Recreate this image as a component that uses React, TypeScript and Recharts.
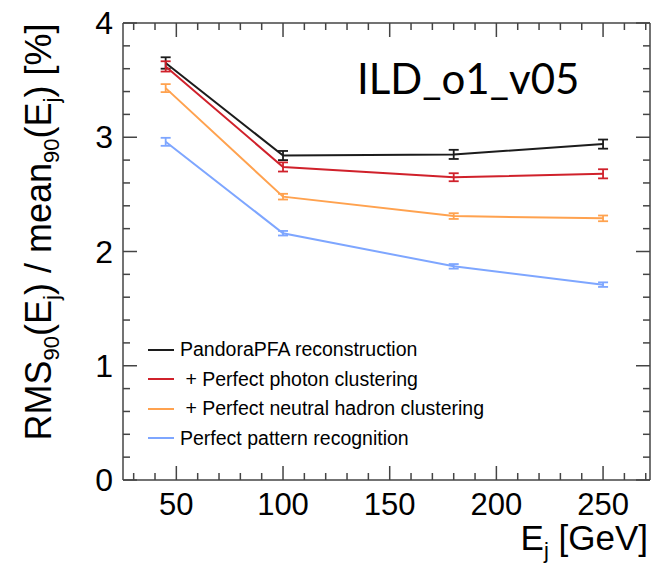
import { LineChart, Line, XAxis, YAxis, ErrorBar, Legend, Customized } from 'recharts';

// jet energies [GeV]
const energies = [45, 100, 180, 250];

// RMS90 / mean90 [%] and their errors, per reconstruction setup
const pandora = [3.65, 2.84, 2.85, 2.94];
const pandoraErr = [0.05, 0.04, 0.04, 0.04];
const photon = [3.62, 2.74, 2.65, 2.68];
const photonErr = [0.045, 0.04, 0.035, 0.04];
const neutral = [3.43, 2.48, 2.31, 2.29];
const neutralErr = [0.035, 0.025, 0.025, 0.025];
const pattern = [2.96, 2.16, 1.87, 1.71];
const patternErr = [0.035, 0.02, 0.02, 0.02];

const xMajorTicks = [50, 100, 150, 200, 250];
const yMajorTicks = [0, 1, 2, 3, 4];

const seriesNames = [
  'PandoraPFA reconstruction',
  ' + Perfect photon clustering',
  ' + Perfect neutral hadron clustering',
  'Perfect pattern recognition',
];

const SERIES = [
  { key: 'pandora', name: seriesNames[0], color: '#1c1c1c', values: pandora, errs: pandoraErr },
  { key: 'photon', name: seriesNames[1], color: '#d0212b', values: photon, errs: photonErr },
  { key: 'neutral', name: seriesNames[2], color: '#ffa24f', values: neutral, errs: neutralErr },
  { key: 'pattern', name: seriesNames[3], color: '#7ea6ff', values: pattern, errs: patternErr },
];

const chartData = energies.map((e, i) => {
  const row: Record<string, number> = { e };
  for (const s of SERIES) {
    row[s.key] = s.values[i];
    row[s.key + 'Err'] = s.errs[i];
  }
  return row;
});

// minor ticks every 10 GeV / 0.2 %
const xTicks: number[] = [];
for (let v = 30; v <= 270; v += 10) xTicks.push(v);
const yTicks: number[] = [];
for (let i = 0; i <= 20; i++) yTicks.push(Math.round(i * 2) / 10);

const AXIS = '#444';
const FONT = '"Liberation Sans", Arial, sans-serif';
const MAJOR = 14;
const MINOR = 7;

const BottomTick = (props: any) => {
  const { x, y, payload } = props;
  const major = xMajorTicks.includes(payload.value);
  return (
    <g>
      <line x1={x} y1={y} x2={x} y2={y - (major ? MAJOR : MINOR)} stroke={AXIS} strokeWidth={1.5} />
      {major && (
        <text x={x} y={y + 35} textAnchor="middle" fontFamily={FONT} fontSize={31} fill="#000">
          {payload.value}
        </text>
      )}
    </g>
  );
};

const TopTick = (props: any) => {
  const { x, y, payload } = props;
  const major = xMajorTicks.includes(payload.value);
  return <line x1={x} y1={y} x2={x} y2={y + (major ? MAJOR : MINOR)} stroke={AXIS} strokeWidth={1.5} />;
};

const LeftTick = (props: any) => {
  const { x, y, payload } = props;
  const major = yMajorTicks.includes(payload.value);
  return (
    <g>
      <line x1={x} y1={y} x2={x + (major ? MAJOR : MINOR)} y2={y} stroke={AXIS} strokeWidth={1.5} />
      {major && (
        <text x={x - 10} y={y + 11} textAnchor="end" fontFamily={FONT} fontSize={32} fill="#000">
          {payload.value}
        </text>
      )}
    </g>
  );
};

const RightTick = (props: any) => {
  const { x, y, payload } = props;
  const major = yMajorTicks.includes(payload.value);
  return <line x1={x} y1={y} x2={x - (major ? MAJOR : MINOR)} y2={y} stroke={AXIS} strokeWidth={1.5} />;
};

// legend keeps the series order of the plot
const renderLegend = () => (
  <div style={{ fontFamily: FONT, fontSize: 19.5, lineHeight: '29.5px', color: '#000' }}>
    {SERIES.map(s => (
      <div key={s.key} style={{ display: 'flex', alignItems: 'center' }}>
        <span style={{ width: 26, borderTop: `2px solid ${s.color}`, marginRight: 6 }} />
        <span style={{ whiteSpace: 'pre' }}>{s.name}</span>
      </div>
    ))}
  </div>
);

const Texts = () => (
  <g fontFamily={FONT} fill="#000">
    <text x={357} y={94} fontFamily="Lato, 'Open Sans', sans-serif" fontSize={42}>ILD_o1_v05</text>
    <text transform="translate(51,232) rotate(-90)" textAnchor="middle" fontSize={36}>
      RMS<tspan fontSize={22} dy={8}>90</tspan>
      <tspan dy={-8}>(E</tspan><tspan fontSize={22} dy={8}>j</tspan>
      <tspan dy={-8}>) / mean</tspan><tspan fontSize={22} dy={8}>90</tspan>
      <tspan dy={-8}>(E</tspan><tspan fontSize={22} dy={8}>j</tspan>
      <tspan dy={-8}>) [%]</tspan>
    </text>
    <text x={648} y={550} textAnchor="end" fontSize={35}>
      E<tspan fontSize={22} dy={8}>j</tspan><tspan dy={-8}> [GeV]</tspan>
    </text>
  </g>
);

export default function App() {
  return (
    <div style={{ position: 'absolute', left: 0, top: 0, background: '#fff' }}>
      <LineChart width={656} height={567} data={chartData} margin={{ top: 22, right: 5, bottom: 86, left: 122 }}>
        <XAxis
          dataKey="e" type="number" domain={[25, 272]} allowDataOverflow
          ticks={xTicks} interval={0} height={1} tickSize={0} tickMargin={0}
          tickLine={false} tick={<BottomTick />}
          axisLine={{ stroke: AXIS, strokeWidth: 1.5 }}
        />
        <XAxis
          xAxisId="top" orientation="top" dataKey="e" type="number" domain={[25, 272]} allowDataOverflow
          ticks={xTicks} interval={0} height={1} tickSize={0} tickMargin={0}
          tickLine={false} tick={<TopTick />}
          axisLine={{ stroke: AXIS, strokeWidth: 1.5 }}
        />
        <YAxis
          type="number" domain={[0, 4]} allowDataOverflow
          ticks={yTicks} interval={0} width={1} tickSize={0} tickMargin={0}
          tickLine={false} tick={<LeftTick />}
          axisLine={{ stroke: AXIS, strokeWidth: 1.5 }}
        />
        <YAxis
          yAxisId="right" orientation="right" type="number" domain={[0, 4]} allowDataOverflow
          ticks={yTicks} interval={0} width={1} tickSize={0} tickMargin={0}
          tickLine={false} tick={<RightTick />}
          axisLine={{ stroke: AXIS, strokeWidth: 1.5 }}
        />
        {SERIES.map(s => (
          <Line
            key={s.key} type="linear" dataKey={s.key} name={s.name}
            stroke={s.color} strokeWidth={2} dot={false} isAnimationActive={false}
          >
            <ErrorBar dataKey={s.key + 'Err'} direction="y" width={5} stroke={s.color} strokeWidth={1.8} isAnimationActive={false} />
          </Line>
        ))}
        <Legend
          layout="vertical" align="center" verticalAlign="middle"
          content={renderLegend}
          wrapperStyle={{ position: 'absolute', left: 148, top: 335, width: 'auto' }}
        />
        <Customized component={Texts} />
      </LineChart>
    </div>
  );
}
